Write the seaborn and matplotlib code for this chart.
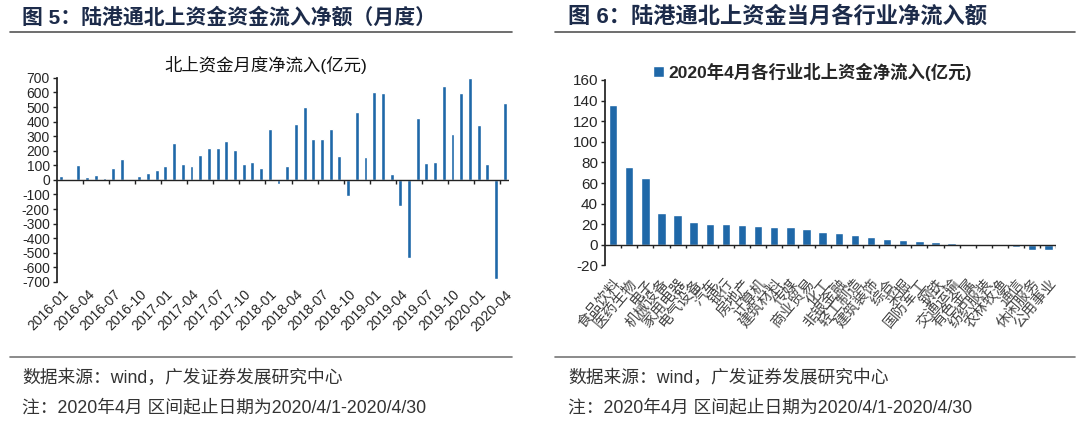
import numpy as np
import pandas as pd
import matplotlib.pyplot as plt
import seaborn as sns

sns.set_theme(style="white")
plt.rcParams['font.family'] = ['Liberation Sans', 'Noto Sans CJK SC']
plt.rcParams['axes.unicode_minus'] = False

# Monthly northbound net inflow (100m CNY), 2016-01 .. 2020-04
months = pd.period_range("2016-01", "2020-04", freq="M").strftime("%Y-%m").tolist()
flows = [30, 3, 101, 18, 34, 16, 85, 144, -10, 30, 46, 66,
         92, 255, 108, 96, 174, 218, 222, 266, 204, 112, 124, 85,
         349, -28, 92, 383, 502, 280, 280, 349, 167, -110, 466, 154,
         603, 599, 39, -179, -538, 422, 115, 126, 642, 317, 599, 700,
         378, 110, -680, 527]

# April 2020 net inflow by industry (100m CNY)
industries = ["食品饮料", "医药生物", "电子", "机械设备", "家用电器", "电气设备", "汽车",
              "银行", "房地产", "计算机", "建筑材料", "传媒", "商业贸易", "化工",
              "非银金融", "轻工制造", "建筑装饰", "综合", "采掘", "国防军工", "钢铁",
              "交通运输", "有色金属", "纺织服装", "农林牧渔", "通信", "休闲服务", "公用事业"]
industry_flows = [135.4, 75.6, 65.0, 30.7, 29.0, 22.3, 20.7, 20.0, 19.4, 18.1, 17.4, 17.4,
                  15.5, 12.9, 11.6, 9.7, 7.4, 5.2, 4.5, 3.9, 2.9, 1.9, 1.0, 1.0,
                  -1.5, -1.8, -5.0, -5.3]

bar_color = "#1f68a8"
head_color = "#1c2b4a"
axis_color = "#222222"
W, H = 1080, 422

fig = plt.figure(figsize=(10.8, 4.22), dpi=100)
fig.patch.set_facecolor("white")


def fx(px):
    return px / W


def fy(py):
    return 1 - py / H


# headers, rules and footers
fig.text(fx(22), fy(17), "图 5：陆港通北上资金资金流入净额（月度）", fontsize=15,
         fontweight="bold", color=head_color, va="center")
fig.text(fx(568), fy(17), "图 6：陆港通北上资金当月各行业净流入额", fontsize=16,
         fontweight="bold", color=head_color, va="center")
for x0, x1 in [(10, 512), (555, 1075)]:
    fig.add_artist(plt.Line2D([fx(x0), fx(x1)], [fy(32), fy(32)], color="#555555", lw=1.2))
    fig.add_artist(plt.Line2D([fx(x0), fx(x1)], [fy(357), fy(357)], color="#777777", lw=1.2))
for x0 in [22, 568]:
    fig.text(fx(x0), fy(378), "数据来源：wind，广发证券发展研究中心", fontsize=12.8,
             color="#333333", va="center")
    fig.text(fx(x0), fy(408), "注：2020年4月 区间起止日期为2020/4/1-2020/4/30", fontsize=12.8,
             color="#333333", va="center")


def style_axes(ax, boundaries):
    for s in ["top", "right", "bottom"]:
        ax.spines[s].set_visible(False)
    ax.spines["left"].set_color(axis_color)
    ax.tick_params(axis="x", bottom=False, length=0, pad=4)
    # zero line with outward tick marks at category boundaries
    ax.axhline(0, color=axis_color, lw=1)
    lo, hi = ax.get_ylim()
    tick = (hi - lo) * 0.018
    ax.vlines(boundaries, -tick, 0, colors=axis_color, lw=1)


# left chart
x1 = np.arange(len(months))
ax1 = fig.add_axes([0.0525, 0.332, 0.4188, 0.4834])
sns.barplot(x=x1, y=flows, native_scale=True, errorbar=None, color=bar_color,
            saturation=1, width=0.45, ax=ax1)
ax1.set_xlim(-0.5, len(months) - 0.5)
ax1.set_ylim(-700, 700)
ax1.set_yticks(range(-700, 701, 100))
ax1.set_xticks(x1[::3])
ax1.set_xticklabels(months[::3], rotation=45, ha="right", rotation_mode="anchor", fontsize=10)
ax1.tick_params(axis="y", left=True, length=3, width=1, labelsize=10, pad=2, color=axis_color)
fig.text(fx(266), fy(65), "北上资金月度净流入(亿元)", fontsize=12.5, color="#111111",
         ha="center", va="center", fontweight="medium")
style_axes(ax1, x1[2:-1:3] + 0.5)

# right chart
x2 = np.arange(len(industries))
ax2 = fig.add_axes([0.5602, 0.371, 0.418, 0.4395])
sns.barplot(x=x2, y=industry_flows, native_scale=True, errorbar=None, color=bar_color,
            saturation=1, width=0.52, ax=ax2, label="2020年4月各行业北上资金净流入(亿元)")
ax2.set_xlim(-0.5, len(industries) - 0.5)
ax2.set_ylim(-20, 160)
ax2.set_yticks(range(-20, 161, 20))
ax2.set_xticks(x2)
ax2.set_xticklabels(industries, rotation=50, ha="right", rotation_mode="anchor", fontsize=10.5,
                    color="#444444")
ax2.tick_params(axis="y", left=True, length=3, width=1, labelsize=11, pad=2, color=axis_color)
style_axes(ax2, x2 + 0.5)
ax2.tick_params(axis="x", pad=8)
ax2.legend(loc="center", bbox_to_anchor=(0.46, 1.043), frameon=False, handlelength=0.6,
           handleheight=0.6, handletextpad=0.3, prop={"weight": "bold", "size": 12.5})

fig.savefig("out.png", dpi=100, facecolor="white")
